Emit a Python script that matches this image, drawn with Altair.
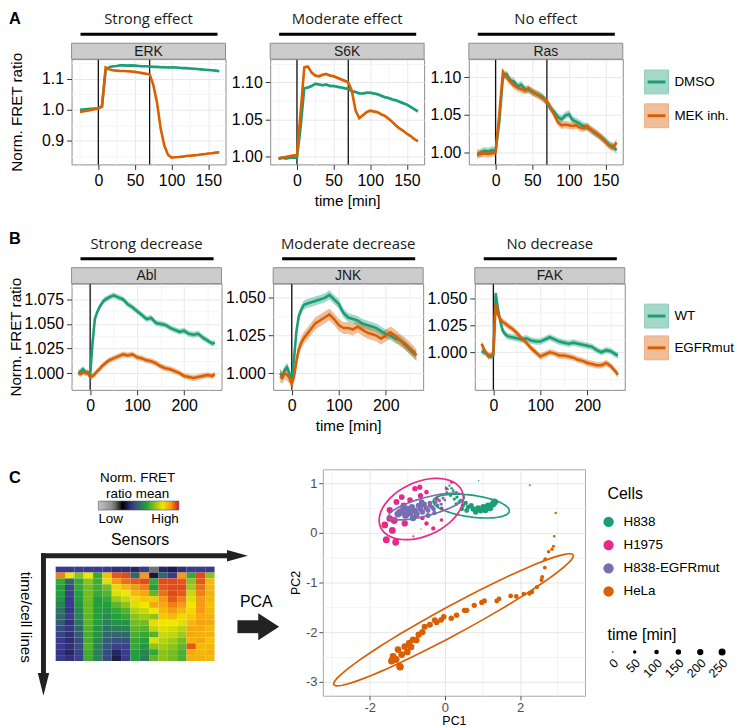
import altair as alt
import numpy as np
import pandas as pd

FONT = "Liberation Sans"
HEAD_FONT = "Open Sans"
GREEN, ORANGE = "#1b9e77", "#d95f02"
GREEN_L, ORANGE_L = "#a4d8c8", "#f0bf9a"
BORDER = "#8c8c8c"
ONE = pd.DataFrame({"k": [0]})

# ---------------- Panel A data (time in min) ----------------
time_a = [-25, -20, -15, -10, -5, 0, 5, 10, 15, 20, 25, 30, 35, 40, 45, 50, 55, 60, 65,
          70, 75, 80, 85, 90, 95, 100, 105, 110, 115, 120, 125, 130, 135, 140, 145, 150,
          155, 160, 165]
erk_dmso = [1.000, 1.001, 1.002, 1.003, 1.004, 1.005, 1.012, 1.128, 1.137, 1.140, 1.141, 1.143,
            1.143, 1.142, 1.143, 1.142, 1.141, 1.140, 1.140, 1.139, 1.138, 1.138, 1.137, 1.137,
            1.136, 1.137, 1.136, 1.135, 1.134, 1.134, 1.133, 1.132, 1.131, 1.130, 1.129, 1.128,
            1.127, 1.126, 1.124]
erk_mek = [0.993, 0.995, 0.997, 0.999, 1.002, 1.004, 1.010, 1.136, 1.130, 1.127, 1.126, 1.125,
           1.125, 1.124, 1.123, 1.122, 1.120, 1.118, 1.116, 1.114, 1.080, 1.024, 0.940, 0.885,
           0.855, 0.846, 0.847, 0.848, 0.849, 0.851, 0.852, 0.853, 0.854, 0.856, 0.857, 0.859,
           0.860, 0.862, 0.863]
s6k_dmso = [0.998, 0.999, 0.998, 0.999, 0.999, 0.999, 1.040, 1.092, 1.093, 1.095, 1.098, 1.097,
            1.096, 1.097, 1.095, 1.095, 1.094, 1.093, 1.092, 1.091, 1.088, 1.087, 1.085, 1.085,
            1.086, 1.086, 1.085, 1.084, 1.082, 1.080, 1.079, 1.077, 1.076, 1.074, 1.072, 1.070,
            1.067, 1.064, 1.061]
s6k_mek = [0.998, 0.999, 1.000, 1.001, 1.002, 1.002, 1.060, 1.120, 1.121, 1.113, 1.109, 1.108,
           1.110, 1.111, 1.109, 1.108, 1.106, 1.104, 1.102, 1.100, 1.088, 1.062, 1.052, 1.056,
           1.060, 1.062, 1.061, 1.060, 1.057, 1.055, 1.051, 1.047, 1.042, 1.038, 1.035, 1.031,
           1.028, 1.024, 1.021]
ras_dmso = [0.996, 1.000, 1.002, 1.001, 1.003, 1.002, 1.040, 1.100, 1.104, 1.096, 1.094, 1.088,
            1.090, 1.084, 1.083, 1.081, 1.078, 1.076, 1.073, 1.066, 1.058, 1.054, 1.047, 1.044,
            1.049, 1.051, 1.043, 1.041, 1.038, 1.035, 1.033, 1.030, 1.026, 1.023, 1.019, 1.015,
            1.010, 1.008, 1.003]
ras_mek = [0.999, 0.998, 0.999, 0.998, 0.999, 1.000, 1.050, 1.107, 1.100, 1.094, 1.089, 1.086,
           1.084, 1.082, 1.085, 1.080, 1.078, 1.075, 1.071, 1.068, 1.060, 1.050, 1.040, 1.036,
           1.037, 1.036, 1.035, 1.036, 1.033, 1.032, 1.035, 1.030, 1.027, 1.023, 1.019, 1.014,
           1.009, 1.006, 1.013]
band_a = {"ERK": (0.003, 0.003), "S6K": (0.002, 0.002), "Ras": (0.005, 0.005)}
treat_a = ["DMSO", "MEK inh."]
events_a = [0, 70]

# ---------------- Panel B data ----------------
time_b = [-25, -20, -15, -10, -5, 0, 5, 10, 15, 20, 25, 30, 40, 50, 60, 70, 80, 90, 100, 110,
          120, 130, 140, 150, 160, 170, 180, 190, 200, 210, 220, 230, 240, 250, 260, 265]
abl_wt = [1.000, 1.002, 1.004, 1.001, 1.000, 0.997, 1.030, 1.055, 1.062, 1.067, 1.071, 1.074,
          1.077, 1.079, 1.077, 1.075, 1.070, 1.067, 1.063, 1.059, 1.055, 1.056, 1.051, 1.050,
          1.049, 1.046, 1.044, 1.042, 1.043, 1.040, 1.039, 1.040, 1.036, 1.033, 1.030, 1.031]
abl_egfr = [1.000, 0.999, 1.001, 1.000, 1.001, 0.996, 0.997, 0.999, 1.002, 1.004, 1.007, 1.009,
            1.013, 1.015, 1.017, 1.019, 1.018, 1.019, 1.016, 1.015, 1.013, 1.012, 1.010, 1.007,
            1.005, 1.004, 1.002, 1.000, 0.997, 0.996, 0.995, 0.996, 0.997, 0.998, 0.997, 0.999]
jnk_wt = [1.000, 0.998, 1.002, 1.004, 1.000, 0.995, 1.010, 1.028, 1.038, 1.042, 1.045, 1.046,
          1.047, 1.048, 1.049, 1.050, 1.052, 1.049, 1.046, 1.040, 1.037, 1.036, 1.035, 1.033,
          1.032, 1.031, 1.030, 1.028, 1.026, 1.025, 1.023, 1.022, 1.019, 1.016, 1.013, 1.012]
jnk_egfr = [0.998, 0.997, 1.000, 0.999, 0.997, 0.993, 0.998, 1.008, 1.016, 1.020, 1.023, 1.025,
            1.029, 1.033, 1.035, 1.037, 1.039, 1.036, 1.032, 1.030, 1.030, 1.029, 1.031, 1.029,
            1.027, 1.026, 1.025, 1.023, 1.025, 1.027, 1.025, 1.022, 1.020, 1.017, 1.014, 1.012]
fak_wt = [1.001, 1.000, 0.999, 0.997, 0.996, 0.997, 1.055, 1.040, 1.028, 1.020, 1.017, 1.015,
          1.014, 1.013, 1.012, 1.013, 1.011, 1.010, 1.010, 1.012, 1.014, 1.012, 1.010, 1.009,
          1.008, 1.009, 1.008, 1.007, 1.006, 1.005, 1.002, 1.000, 1.002, 1.001, 0.998, 0.997]
fak_egfr = [1.008, 1.003, 0.999, 0.996, 0.997, 0.999, 1.045, 1.035, 1.031, 1.028, 1.027, 1.025,
            1.022, 1.018, 1.013, 1.009, 1.004, 1.000, 0.996, 0.998, 1.000, 0.999, 0.997, 0.997,
            0.996, 0.995, 0.993, 0.992, 0.990, 0.989, 0.988, 0.988, 0.990, 0.987, 0.982, 0.979]
band_b = {"Abl": (0.003, 0.003), "JNK": (0.003, 0.004), "FAK": (0.003, 0.003)}
geno_b = ["WT", "EGFRmut"]
events_b = [0]

# ---------------- Panel C: heatmap schematic (17 sensors x 16 time/cell rows) ----------------
heat_cols = [
    [0.42, 0.92, 0.62, 0.60, 0.60, 0.58, 0.55, 0.52, 0.50, 0.48, 0.45, 0.44, 0.42, 0.42, 0.41, 0.42],
    [0.42, 0.80, 0.50, 0.45, 0.43, 0.42, 0.42, 0.41, 0.42, 0.40, 0.41, 0.40, 0.39, 0.40, 0.38, 0.40],
    [0.42, 0.70, 0.62, 0.62, 0.60, 0.60, 0.58, 0.56, 0.55, 0.52, 0.50, 0.48, 0.45, 0.45, 0.43, 0.43],
    [0.42, 0.80, 0.70, 0.68, 0.68, 0.68, 0.67, 0.67, 0.66, 0.66, 0.65, 0.64, 0.64, 0.65, 0.63, 0.63],
    [0.42, 0.62, 0.63, 0.63, 0.62, 0.60, 0.60, 0.60, 0.60, 0.60, 0.58, 0.58, 0.56, 0.55, 0.54, 0.55],
    [0.42, 0.85, 0.78, 0.68, 0.65, 0.62, 0.60, 0.58, 0.56, 0.54, 0.52, 0.50, 0.48, 0.47, 0.45, 0.45],
    [0.40, 0.95, 0.90, 0.82, 0.78, 0.72, 0.66, 0.62, 0.60, 0.57, 0.54, 0.50, 0.46, 0.43, 0.38, 0.36],
    [0.40, 0.96, 0.93, 0.86, 0.80, 0.76, 0.70, 0.65, 0.62, 0.58, 0.55, 0.50, 0.46, 0.43, 0.42, 0.42],
    [0.38, 0.50, 0.95, 0.90, 0.86, 0.82, 0.78, 0.74, 0.70, 0.68, 0.66, 0.64, 0.62, 0.62, 0.60, 0.60],
    [0.42, 0.90, 0.96, 0.92, 0.88, 0.84, 0.80, 0.76, 0.72, 0.68, 0.65, 0.62, 0.60, 0.58, 0.55, 0.54],
    [0.20, 0.35, 0.62, 0.60, 0.66, 0.84, 0.88, 0.80, 0.70, 0.82, 0.75, 0.65, 0.78, 0.70, 0.62, 0.66],
    [0.38, 0.50, 0.96, 0.95, 0.93, 0.90, 0.88, 0.86, 0.84, 0.80, 0.78, 0.76, 0.74, 0.72, 0.70, 0.70],
    [0.36, 0.42, 0.96, 0.96, 0.96, 0.95, 0.92, 0.90, 0.86, 0.80, 0.77, 0.75, 0.72, 0.70, 0.68, 0.68],
    [0.40, 0.90, 0.95, 0.96, 0.95, 0.92, 0.90, 0.86, 0.82, 0.78, 0.74, 0.72, 0.68, 0.66, 0.64, 0.64],
    [0.42, 0.62, 0.70, 0.72, 0.76, 0.78, 0.80, 0.82, 0.84, 0.86, 0.88, 0.88, 0.87, 0.95, 0.88, 0.87],
    [0.42, 0.96, 0.95, 0.93, 0.92, 0.90, 0.90, 0.90, 0.88, 0.89, 0.88, 0.87, 0.88, 0.86, 0.86, 0.87],
    [0.42, 0.70, 0.86, 0.86, 0.87, 0.86, 0.85, 0.86, 0.87, 0.88, 0.86, 0.87, 0.85, 0.86, 0.87, 0.86],
]
heat_stops = [0, 0.18, 0.3, 0.42, 0.6, 0.8, 0.9, 1.0]
heat_colors = ["#c4c4c4", "#8a8a8a", "#000000", "#3b3a8f", "#22a03c", "#f2e600", "#f49a14", "#d4161c"]

# ---------------- Panel C: PCA scores (PC1, PC2, time) ----------------
cells = ["H838", "H1975", "H838-EGFRmut", "HeLa"]
cell_colors = ["#1b9e77", "#e7298a", "#7570b3", "#d95f02"]
h838_pc1 = [0.90, 0.02, 0.08, 0.12, 0.05, 0.18, 0.22, 0.15, 0.28, 0.25, 0.32, 0.38, 0.30, 0.42, 0.48,
            0.45, 0.55, 0.62, 0.58, 0.70, 0.75, 0.82, 0.88, 0.95, 1.02, 1.08, 1.15, 1.20, 1.28, 1.32]
h838_pc2 = [1.05, 0.92, 0.88, 0.95, 0.82, 0.90, 0.85, 0.75, 0.80, 0.68, 0.72, 0.62, 0.58, 0.65, 0.55,
            0.48, 0.60, 0.52, 0.45, 0.55, 0.48, 0.42, 0.50, 0.45, 0.52, 0.46, 0.55, 0.50, 0.58, 0.62]
h838_time = [0, 5, 10, 15, 20, 25, 30, 35, 40, 45, 50, 55, 60, 70, 80, 90, 100, 110, 120, 130, 140,
             150, 160, 170, 180, 190, 200, 215, 230, 250]
h1975_pc1 = [-1.56, -1.31, -1.60, -1.47, -1.20, -1.07, -1.47, -1.29, -1.15, -1.02, -0.93, -0.80, -0.67,
             -0.75, -0.58, -0.49, -0.49, -0.31, -0.22, -0.09, -0.09, 0.04, 0.18, 0.31, -0.84, -1.35,
             -0.95, -0.60, -1.10, -0.40, -0.65, -1.40]
h1975_pc2 = [-0.14, -0.19, 0.16, 0.29, 0.42, 0.19, 0.46, 0.62, 0.72, 0.36, 0.66, 0.89, 0.92, 0.36, 0.56,
             0.82, 0.19, 0.09, 0.69, 0.49, 0.26, 0.89, 1.02, 0.82, -0.07, 0.25, 0.45, 0.30, 0.55, 0.55,
             0.75, 0.05]
h1975_time = [250, 240, 230, 220, 210, 200, 190, 180, 170, 160, 150, 140, 130, 120, 110, 100, 95, 90, 80,
              70, 60, 50, 40, 20, 10, 245, 175, 105, 185, 85, 135, 235]
egfr_pc1 = [-1.25, -1.15, -1.05, -1.00, -0.92, -0.88, -0.80, -0.75, -0.70, -0.65, -0.60, -0.55, -0.50,
            -0.45, -0.40, -0.35, -0.30, -0.25, -0.20, -0.15, -0.10, -0.05, 0.00, -0.85, -0.62, -1.10,
            -0.45, -0.28]
egfr_pc2 = [0.38, 0.42, 0.35, 0.48, 0.40, 0.52, 0.45, 0.38, 0.55, 0.48, 0.42, 0.58, 0.50, 0.45, 0.60,
            0.52, 0.48, 0.62, 0.55, 0.65, 0.58, 0.70, 0.66, 0.30, 0.62, 0.50, 0.35, 0.40]
egfr_time = [250, 240, 230, 220, 210, 200, 190, 180, 170, 160, 150, 140, 130, 120, 110, 100, 90, 80, 70,
             60, 50, 40, 30, 205, 155, 235, 125, 95]
hela_pc1 = [-1.20, -1.38, -1.30, -1.15, -1.25, -1.07, -1.00, -0.95, -0.90, -0.85, -0.76, -0.70, -0.60,
            -0.54, -0.40, -0.27, -0.22, -0.10, -0.03, 0.17, 0.31, 0.52, 0.58, 0.78, 0.98, 1.05, 1.38,
            1.44, 1.75, 1.90, 2.10, 2.25, 2.32, 2.45, 2.57, 2.59, 2.66, 2.67, 2.76, 2.85, 2.89, 2.91,
            2.95, 2.26, -0.64, -1.19, -1.42]
hela_pc2 = [-2.69, -2.49, -2.55, -2.45, -2.35, -2.29, -2.40, -2.22, -2.30, -2.15, -2.16, -2.05, -2.00,
            -1.89, -1.85, -1.76, -1.80, -1.75, -1.69, -1.72, -1.66, -1.56, -1.56, -1.46, -1.40, -1.37,
            -1.37, -1.33, -1.27, -1.28, -1.23, -1.22, -1.19, -1.09, -0.95, -0.89, -0.70, -0.53, -0.38,
            -0.33, -0.27, -0.07, 0.40, 0.96, 0.08, -2.70, -2.58]
hela_time = [250, 245, 240, 235, 230, 225, 220, 215, 210, 205, 200, 195, 190, 185, 180, 175, 170, 165,
             160, 155, 150, 145, 140, 135, 130, 125, 120, 115, 110, 105, 100, 95, 90, 85, 80, 75, 70,
             65, 60, 50, 40, 30, 20, 10, 0, 255, 248]
# 95% data ellipses: centre, semi-axes (PC units) and tilt (degrees)
ell_cx = [0.70, -0.63, -0.49, 0.23]
ell_cy = [0.54, 0.48, 0.53, -1.75]
ell_a = [1.02, 1.15, 1.03, 3.445]
ell_b = [0.22, 0.56, 0.185, 0.30]
ell_deg = [-5.6, 15.0, 11.2, 22.2]
time_breaks = [0, 50, 100, 150, 200, 250]


def cond(test, a, b):
    return {"condition": {"test": test, "value": a}, "value": b}


def label(text, x, y, size, font=FONT, align="center", baseline="alphabetic",
          weight="normal", angle=0, color="#000000"):
    return alt.Chart(pd.DataFrame({"lab": [text]})).mark_text(
        font=font, fontSize=size, align=align, baseline=baseline, fontWeight=weight,
        angle=angle, color=color
    ).encode(x=alt.value(x), y=alt.value(y), text="lab:N")


def marker(x, y):
    return alt.Chart(ONE).mark_rule(strokeOpacity=0).encode(
        x=alt.value(x), x2=alt.value(x + 1), y=alt.value(y))


def ts_panel(times, v1, v2, se, names, strip, group, ydom, ymaj, ymin, yfmt,
             xdom, xmaj, xmin, events, W, H, top, letter=None, letter_xy=(0, 0),
             ytitle=False, ytpad=0, xtitle=False):
    n = len(times)
    assert len(v1) == n and len(v2) == n
    df = pd.DataFrame({"t": list(times) * 2, "v": list(v1) + list(v2),
                       "series": [names[0]] * n + [names[1]] * n})
    half = np.array([se[0]] * n + [se[1]] * n)
    df["lo"] = df["v"] - half
    df["hi"] = df["v"] + half
    xt = f"indexof({list(xmaj)}, datum.value) < 0"
    yt = f"indexof({list(ymaj)}, datum.value) < 0"
    common = dict(labelFontSize=16, labelColor="#000000", labelFont=FONT, tickColor="#333333",
                  tickSize=5, labelPadding=3, domain=False, grid=True, titleFont=FONT,
                  titleFontSize=15.3, titleFontWeight="normal", titleColor="#000000")
    xaxis = alt.Axis(values=sorted(xmaj + xmin), labelExpr=f"{xt} ? '' : datum.label",
                     tickOpacity=cond(xt, 0, 1), gridColor=cond(xt, "#f4f4f4", "#e8e8e8"),
                     title="time [min]" if xtitle else None, titlePadding=5, **common)
    yaxis = alt.Axis(values=sorted(ymaj + ymin), format=yfmt, labelExpr=f"{yt} ? '' : datum.label",
                     tickOpacity=cond(yt, 0, 1), gridColor=cond(yt, "#f4f4f4", "#e8e8e8"),
                     title="Norm. FRET ratio" if ytitle else None, titlePadding=ytpad, **common)
    xs = alt.Scale(domain=xdom, nice=False, zero=False)
    ys = alt.Scale(domain=ydom, nice=False, zero=False)
    C = alt.Color("series:N", scale=alt.Scale(domain=names, range=[GREEN, ORANGE]), legend=None)
    rules = alt.Chart(pd.DataFrame({"t": events})).mark_rule(color="#111111", strokeWidth=1.3).encode(
        x=alt.X("t:Q", scale=xs, axis=xaxis))
    band = alt.Chart(df).mark_area(opacity=0.4, clip=True).encode(
        x=alt.X("t:Q", scale=xs, axis=xaxis), y=alt.Y("lo:Q", scale=ys, axis=yaxis), y2="hi:Q", color=C)
    line = alt.Chart(df).mark_line(strokeWidth=2.6, clip=True).encode(
        x=alt.X("t:Q", scale=xs, axis=xaxis), y=alt.Y("v:Q", scale=ys, axis=yaxis), color=C)
    strip_rect = alt.Chart(ONE).mark_rect(fill="#cccccc", stroke=BORDER, strokeWidth=1).encode(
        x=alt.value(0), x2=alt.value(W), y=alt.value(-16), y2=alt.value(0))
    bar = alt.Chart(ONE).mark_rule(color="#000000", strokeWidth=3).encode(
        x=alt.value(9), x2=alt.value(W - 8), y=alt.value(-25))
    layers = [marker(0, top), rules, band, line, strip_rect,
              label(strip, W / 2, -7.5, 14, baseline="middle", color="#1a1a1a"),
              label(group, W / 2, -35, 15, font=HEAD_FONT, color="#1a1a1a"), bar]
    if letter:
        layers.append(label(letter, letter_xy[0], letter_xy[1], 16.5, align="left", weight="bold"))
    return alt.layer(*layers).properties(width=W, height=H)


def legend_ab(names, ys, H, top):
    df = pd.DataFrame({"series": names})
    y = alt.Y("series:N", scale=alt.Scale(type="point", domain=names, range=ys, padding=0), axis=None)
    sq = alt.Chart(df).mark_square(size=576, opacity=1, strokeWidth=1).encode(
        x=alt.value(12), y=y,
        fill=alt.Fill("series:N", scale=alt.Scale(domain=names, range=[GREEN_L, ORANGE_L]), legend=None),
        stroke=alt.Stroke("series:N", scale=alt.Scale(domain=names, range=["#8fcdb9", "#eaae85"]), legend=None))
    ln = alt.Chart(df).mark_rule(strokeWidth=3).encode(
        x=alt.value(3), x2=alt.value(21), y=y,
        color=alt.Color("series:N", scale=alt.Scale(domain=names, range=[GREEN, ORANGE]), legend=None))
    tx = alt.Chart(df).mark_text(align="left", baseline="middle", font=FONT, fontSize=13.5).encode(
        x=alt.value(30), y=y, text="series:N")
    return alt.layer(marker(-16, top), sq, ln, tx).properties(
        width=84, height=H, view=alt.ViewBackground(stroke="transparent"))


# ---------------- Row A ----------------
WA, HA, TOPA = 155, 106, -48
xdomA, xmajA, xminA = [-36.5, 173.5], [0, 50, 100, 150], [-25, 25, 75, 125]
erk = ts_panel(time_a, erk_dmso, erk_mek, band_a["ERK"], treat_a, "ERK", "Strong effect",
               [0.824, 1.163], [0.9, 1.0, 1.1], [0.85, 0.95, 1.05, 1.15], ".1f",
               xdomA, xmajA, xminA, events_a, WA, HA, TOPA, letter="A", letter_xy=(-63, -35),
               ytitle=True, ytpad=17)
s6k = ts_panel(time_a, s6k_dmso, s6k_mek, band_a["S6K"], treat_a, "S6K", "Moderate effect",
               [0.990, 1.131], [1.0, 1.05, 1.1], [1.025, 1.075, 1.125], ".2f",
               xdomA, xmajA, xminA, events_a, WA, HA, TOPA, xtitle=True)
ras = ts_panel(time_a, ras_dmso, ras_mek, band_a["Ras"], treat_a, "Ras", "No effect",
               [0.984, 1.124], [1.0, 1.05, 1.1], [1.025, 1.075], ".2f",
               xdomA, xmajA, xminA, events_a, WA, HA, TOPA)
legA = legend_ab(treat_a, [23, 57], HA, TOPA)
rowA = alt.hconcat(erk, s6k, ras, legA, spacing=4).resolve_scale(
    color="independent", fill="independent", stroke="independent")

# ---------------- Row B ----------------
WB, HB, TOPB = 151, 107, -54
xdomB, xmajB, xminB = [-39.5, 279.5], [0, 100, 200], [50, 150, 250]
abl = ts_panel(time_b, abl_wt, abl_egfr, band_b["Abl"], geno_b, "Abl", "Strong decrease",
               [0.983, 1.091], [1.0, 1.025, 1.05, 1.075], [0.9875, 1.0125, 1.0375, 1.0625, 1.0875], ".3f",
               xdomB, xmajB, xminB, events_b, WB, HB, TOPB, letter="B", letter_xy=(-63, -40),
               ytitle=True, ytpad=0)
jnk = ts_panel(time_b, jnk_wt, jnk_egfr, band_b["JNK"], geno_b, "JNK", "Moderate decrease",
               [0.989, 1.0595], [1.0, 1.025, 1.05], [1.0125, 1.0375], ".3f",
               xdomB, xmajB, xminB, events_b, WB, HB, TOPB, xtitle=True)
fak = ts_panel(time_b, fak_wt, fak_egfr, band_b["FAK"], geno_b, "FAK", "No decrease",
               [0.965, 1.064], [1.0, 1.025, 1.05], [0.975, 0.9875, 1.0125, 1.0375], ".3f",
               xdomB, xmajB, xminB, events_b, WB, HB, TOPB)
legB = legend_ab(geno_b, [32.7, 64.7], HB, TOPB)
rowB = alt.hconcat(abl, jnk, fak, legB, spacing=2).resolve_scale(
    color="independent", fill="independent", stroke="independent")

# ---------------- Row C: heatmap schematic ----------------
# chart origin is shared with the PCA panel; the heatmap block sits 98 px lower, 16 px to the left
heat_df = pd.DataFrame([{"s0": c, "s1": c + 1, "r0": r, "r1": r + 1, "v": val}
                        for c, col in enumerate(heat_cols) for r, val in enumerate(col)])
WS, HS = 264, 228
OY, OX = 98, -16
TOPC = -14
heat_rect = alt.Chart(heat_df).mark_rect().encode(
    x=alt.X("s0:Q", scale=alt.Scale(domain=[0, 17], range=[OX, OX + 160]), axis=None), x2="s1:Q",
    y=alt.Y("r0:Q", scale=alt.Scale(domain=[0, 16], range=[OY, OY + 95]), axis=None), y2="r1:Q",
    color=alt.Color("v:Q", scale=alt.Scale(domain=heat_stops, range=heat_colors, interpolate="rgb"),
                    legend=alt.Legend(orient="none", legendX=OX + 43, legendY=OY - 66, direction="horizontal",
                                      gradientLength=81, gradientThickness=9, values=[0, 1],
                                      labelExpr="datum.value == 0 ? 'Low' : 'High'",
                                      labelFontSize=13.5, labelFont=FONT, labelAlign="center",
                                      labelColor="#000000", title=None, padding=0,
                                      gradientStrokeColor="#555555", gradientStrokeWidth=0.6)))
DARK = "#222222"
h_shaft = alt.Chart(ONE).mark_rule(color=DARK, strokeWidth=5, strokeCap="butt").encode(
    x=alt.value(OX - 14.8), x2=alt.value(OX + 176), y=alt.value(OY - 11))
v_shaft = alt.Chart(ONE).mark_rule(color=DARK, strokeWidth=5, strokeCap="butt").encode(
    x=alt.value(OX - 12.3), y=alt.value(OY - 13.5), y2=alt.value(OY + 108))
h_head = alt.Chart(ONE).mark_point(shape="M-1,-0.55L1,0L-1,0.55Z", filled=True, size=441,
                                   color=DARK, opacity=1).encode(x=alt.value(OX + 183), y=alt.value(OY - 11))
v_head = alt.Chart(ONE).mark_point(shape="M-0.5,-1L0.5,-1L0,1Z", filled=True, size=529,
                                   color=DARK, opacity=1).encode(x=alt.value(OX - 12.3), y=alt.value(OY + 118.5))
pca_body = alt.Chart(ONE).mark_rect(color=DARK).encode(
    x=alt.value(OX + 183), x2=alt.value(OX + 205), y=alt.value(OY + 54), y2=alt.value(OY + 67))
pca_head = alt.Chart(ONE).mark_point(shape="M-1,-1.3L1,0L-1,1.3Z", filled=True, size=441,
                                     color=DARK, opacity=1).encode(x=alt.value(OX + 214.5), y=alt.value(OY + 60.5))
heat = alt.layer(
    marker(0, TOPC), heat_rect, h_shaft, v_shaft, h_head, v_head, pca_body, pca_head,
    label("C", OX - 47, OY - 84, 16.5, align="left", weight="bold"),
    label("Norm. FRET", OX + 82.5, OY - 85, 13.5), label("ratio mean", OX + 82.5, OY - 69, 13.5),
    label("Sensors", OX + 85, OY - 22, 16), label("PCA", OX + 202, OY + 41, 16),
    label("time/cell lines", OX - 30, OY + 51, 15.3, baseline="middle", angle=90),
).properties(width=140, height=HS, view=alt.ViewBackground(stroke="transparent"))

# ---------------- Row C: PCA scatter ----------------
groups = [(h838_pc1, h838_pc2, h838_time), (h1975_pc1, h1975_pc2, h1975_time),
          (egfr_pc1, egfr_pc2, egfr_time), (hela_pc1, hela_pc2, hela_time)]
pts_rows, ell_rows = [], []
theta = np.linspace(0, 2 * np.pi, 73)
for k, (name, (p1, p2, tm)) in enumerate(zip(cells, groups)):
    assert len(p1) == len(p2) == len(tm)
    for a, b, c in zip(p1, p2, tm):
        pts_rows.append({"pc1": a, "pc2": b, "time": c, "cell": name})
    phi = np.deg2rad(ell_deg[k])
    ex = ell_cx[k] + ell_a[k] * np.cos(theta) * np.cos(phi) - ell_b[k] * np.sin(theta) * np.sin(phi)
    ey = ell_cy[k] + ell_a[k] * np.cos(theta) * np.sin(phi) + ell_b[k] * np.sin(theta) * np.cos(phi)
    for i in range(len(theta)):
        ell_rows.append({"pc1": ex[i], "pc2": ey[i], "cell": name, "idx": i})
pts_df = pd.DataFrame(pts_rows)
ell_df = pd.DataFrame(ell_rows)

size_scale = alt.Scale(domain=[0, 250], range=[2, 50])
cell_scale = alt.Scale(domain=cells, range=cell_colors)
sc_common = dict(labelFontSize=13, labelColor="#4d4d4d", labelFont=FONT, tickColor="#4d4d4d",
                 tickSize=4, labelPadding=2, domain=False, grid=True, titleFont=FONT,
                 titleFontSize=12.5, titleFontWeight="normal", titleColor="#000000")
odd_x = "abs(datum.value) % 2 == 1"
half_y = "datum.value % 1 != 0"
sx = alt.X("pc1:Q", scale=alt.Scale(domain=[-3.25, 3.73], nice=False, zero=False),
           axis=alt.Axis(values=[-3, -2, -1, 0, 1, 2, 3], title="PC1", titlePadding=0,
                         labelExpr=f"{odd_x} ? '' : (datum.value < 0 ? '-' + abs(datum.value) : '' + datum.value)",
                         tickOpacity=cond(odd_x, 0, 1), gridColor=cond(odd_x, "#f2f2f2", "#e6e6e6"),
                         **sc_common))
sy = alt.Y("pc2:Q", scale=alt.Scale(domain=[-3.28, 1.28], nice=False, zero=False),
           axis=alt.Axis(values=[-3, -2.5, -2, -1.5, -1, -0.5, 0, 0.5, 1], title="PC2", titlePadding=3,
                         labelExpr=f"{half_y} ? '' : (datum.value < 0 ? '-' + abs(datum.value) : '' + datum.value)",
                         tickOpacity=cond(half_y, 0, 1), gridColor=cond(half_y, "#f2f2f2", "#e6e6e6"),
                         **sc_common))
points = alt.Chart(pts_df).mark_circle(opacity=1).encode(
    x=sx, y=sy, color=alt.Color("cell:N", scale=cell_scale, legend=None),
    size=alt.Size("time:Q", scale=size_scale, legend=None))
ellipses = alt.Chart(ell_df).mark_line(strokeWidth=1.7, clip=True).encode(
    x=sx, y=sy, color=alt.Color("cell:N", scale=cell_scale, legend=None), order="idx:Q")
scatter = alt.layer(marker(0, TOPC), points, ellipses).properties(
    width=WS, height=HS, view=alt.ViewBackground(stroke="#a8a8a8"))

# ---------------- Row C: legends ----------------
cdf = pd.DataFrame({"cell": cells})
yc = alt.Y("cell:N", scale=alt.Scale(type="point", domain=cells, range=[53, 123], padding=0), axis=None)
leg_circ = alt.Chart(cdf).mark_circle(size=108, opacity=1).encode(
    x=alt.value(13.7), y=yc, color=alt.Color("cell:N", scale=cell_scale, legend=None))
leg_lab = alt.Chart(cdf).mark_text(align="left", baseline="middle", font=FONT, fontSize=13.5).encode(
    x=alt.value(28.7), y=yc, text="cell:N")
tdf = pd.DataFrame({"tl": time_breaks})
t_dots = alt.Chart(tdf).mark_circle(color="#000000", opacity=1).encode(
    x=alt.X("tl:O", scale=alt.Scale(type="point", domain=time_breaks, range=[18, 128], padding=0), axis=None),
    y=alt.value(184), size=alt.Size("tl:Q", scale=size_scale, legend=None))
t_labs = alt.Chart(tdf).mark_text(angle=315, align="right", baseline="middle", font=FONT,
                                  fontSize=12.5).encode(
    x=alt.X("tl:O", scale=alt.Scale(type="point", domain=time_breaks, range=[21.5, 131.5], padding=0),
            axis=None),
    y=alt.value(193), text="tl:N")
legC = alt.layer(
    marker(0, TOPC), label("Cells", 12.7, 30, 16, align="left"), leg_circ, leg_lab,
    label("time [min]", 12.7, 171.7, 16, align="left"), t_dots, t_labs,
).resolve_scale(x="independent").properties(
    width=128, height=HS, view=alt.ViewBackground(stroke="transparent"))

rowC = alt.hconcat(heat, scatter, legC, spacing=8).resolve_scale(
    color="independent", size="independent")

chart = alt.vconcat(rowA, rowB, rowC, spacing=20).resolve_scale(
    color="independent", fill="independent", stroke="independent", size="independent"
).properties(padding=0).configure(font=FONT).configure_view(stroke=BORDER, strokeWidth=1)

chart.save("out.html", embed_options={"renderer": "svg", "actions": False})
